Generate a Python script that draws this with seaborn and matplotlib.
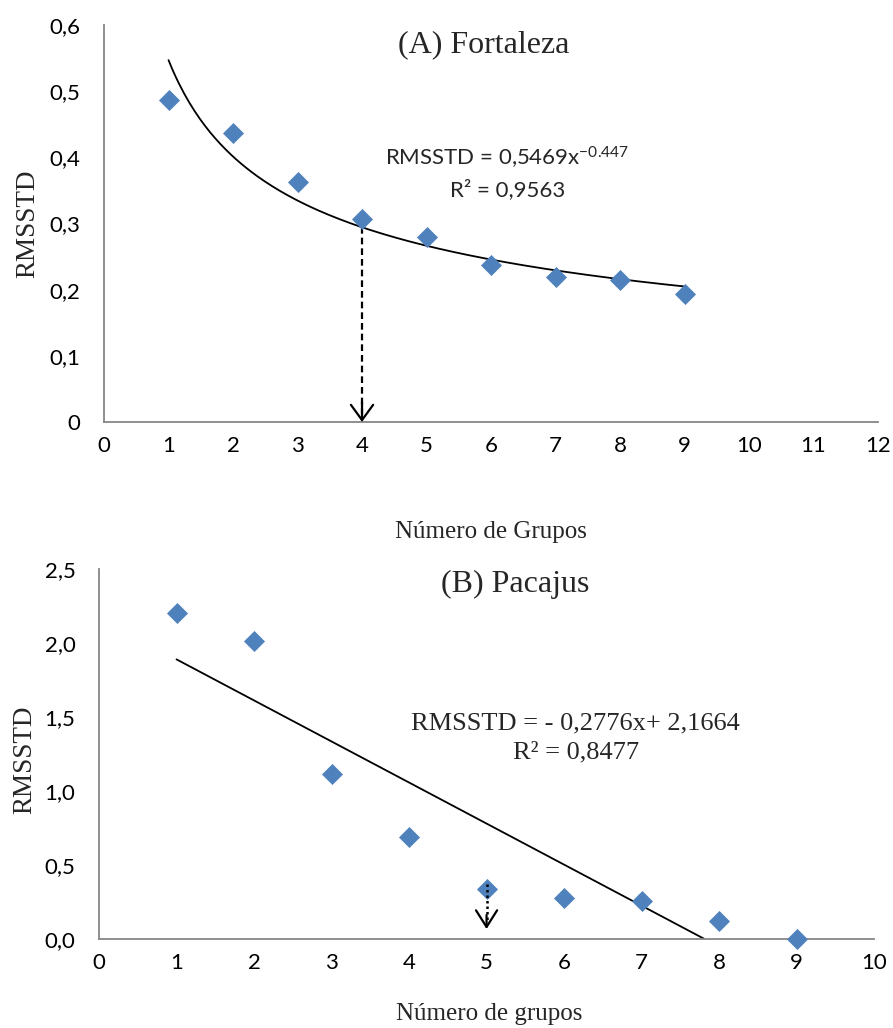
import numpy as np
import pandas as pd
import matplotlib
matplotlib.use("Agg")
import matplotlib.pyplot as plt
import seaborn as sns

# Panel A - Fortaleza
grupos_a = [1, 2, 3, 4, 5, 6, 7, 8, 9]
rmsstd_a = [0.487, 0.436, 0.363, 0.307, 0.279, 0.238, 0.219, 0.214, 0.193]
# power trend line: RMSSTD = a * x^b
coef_a, exp_a = 0.5469, -0.447
yticks_a = [0, 0.1, 0.2, 0.3, 0.4, 0.5, 0.6]
yticklabels_a = ["0", "0,1", "0,2", "0,3", "0,4", "0,5", "0,6"]
xticks_a = list(range(0, 13))

# Panel B - Pacajus
grupos_b = [1, 2, 3, 4, 5, 6, 7, 8, 9]
rmsstd_b = [2.205, 2.015, 1.113, 0.690, 0.338, 0.278, 0.253, 0.120, 0.0]
# linear trend line: RMSSTD = m*x + c
slope_b, icpt_b = -0.2776, 2.1664
yticks_b = [0, 0.5, 1.0, 1.5, 2.0, 2.5]
yticklabels_b = ["0,0", "0,5", "1,0", "1,5", "2,0", "2,5"]
xticks_b = list(range(0, 11))

# chosen number of groups (arrows)
k_a = 4
k_b = 5

sns.set_style("white")
plt.rcParams["font.family"] = ["Lato", "DejaVu Sans"]
plt.rcParams["mathtext.default"] = "regular"

serif = ["Liberation Serif", "DejaVu Serif"]
sans = ["Lato", "DejaVu Sans"]
blue = "#4F81BD"
grey = "#868686"

fig = plt.figure(figsize=(8.93, 10.28), dpi=100)
ax1 = fig.add_axes([0.1165, 0.5895, 0.8667, 0.3862])
ax2 = fig.add_axes([0.1109, 0.0869, 0.8679, 0.3596])


def style_axis(ax):
    for s in ["top", "right"]:
        ax.spines[s].set_visible(False)
    for s in ["left", "bottom"]:
        ax.spines[s].set_color(grey)
        ax.spines[s].set_linewidth(1.3)
    ax.tick_params(axis="both", direction="out", length=6, width=1.3,
                   color=grey, labelsize=16, labelcolor="black")
    ax.tick_params(axis="x", pad=4)
    ax.tick_params(axis="y", pad=11)
    for lab in ax.get_xticklabels() + ax.get_yticklabels():
        lab.set_fontfamily(sans)


# ---- Panel A ----
df_a = pd.DataFrame({"grupos": grupos_a, "rmsstd": rmsstd_a})
xa = np.linspace(1, 9, 200)
trend_a = pd.DataFrame({"x": xa, "y": coef_a * xa ** exp_a})
sns.lineplot(data=trend_a, x="x", y="y", color="black", lw=1.3, ax=ax1)
sns.scatterplot(data=df_a, x="grupos", y="rmsstd", marker="D", s=115,
                color=blue, edgecolor=blue, linewidth=0, zorder=3, ax=ax1, clip_on=False)

ax1.set_xlim(0, 12)
ax1.set_ylim(0, 0.6)
ax1.set_xticks(xticks_a)
ax1.set_yticks(yticks_a)
ax1.set_yticklabels(yticklabels_a)
style_axis(ax1)

ya_k = coef_a * k_a ** exp_a
ax1.plot([k_a, k_a], [ya_k, 0.012], color="black", lw=1.6, ls=(0, (3, 1.8)))
ax1.annotate("", xy=(k_a, 0), xytext=(k_a, 0.03),
             arrowprops=dict(arrowstyle="->,head_length=0.55,head_width=0.4",
                             lw=1.6, color="black", mutation_scale=20,
                             shrinkA=0, shrinkB=0))

ax1.set_xlabel("Número de Grupos", fontsize=18, fontfamily=serif)
ax1.set_ylabel("RMSSTD", fontsize=19.5, fontfamily=serif)
ax1.xaxis.set_label_coords(0.5, -0.25)
ax1.yaxis.set_label_coords(-0.083, 0.5)

ax1.text(0.49, 0.95, "(A) Fortaleza", transform=ax1.transAxes, ha="center",
         va="center", fontsize=23, fontfamily=serif)
ax1.text(0.521, 0.665, "RMSSTD = 0,5469x$^{-0.447}$", transform=ax1.transAxes,
         ha="center", va="center", fontsize=16, fontfamily=sans)
ax1.text(0.521, 0.584, "R² = 0,9563", transform=ax1.transAxes,
         ha="center", va="center", fontsize=16, fontfamily=sans)

# ---- Panel B ----
df_b = pd.DataFrame({"grupos": grupos_b, "rmsstd": rmsstd_b})
x_end = -icpt_b / slope_b
xb = np.array([1, x_end])
trend_b = pd.DataFrame({"x": xb, "y": slope_b * xb + icpt_b})
sns.lineplot(data=trend_b, x="x", y="y", color="black", lw=1.3, ax=ax2)
sns.scatterplot(data=df_b, x="grupos", y="rmsstd", marker="D", s=115,
                color=blue, edgecolor=blue, linewidth=0, zorder=3, ax=ax2, clip_on=False)

ax2.set_xlim(0, 10)
ax2.set_ylim(0, 2.5)
ax2.set_xticks(xticks_b)
ax2.set_yticks(yticks_b)
ax2.set_yticklabels(yticklabels_b)
style_axis(ax2)

ax2.plot([k_b, k_b], [0.37, 0.11], color="black", lw=1.8, ls=(0, (1, 1.2)), zorder=4)
ax2.annotate("", xy=(k_b, 0.065), xytext=(k_b, 0.16),
             arrowprops=dict(arrowstyle="->,head_length=0.6,head_width=0.38",
                             lw=1.6, color="black", mutation_scale=20,
                             shrinkA=0, shrinkB=0))

ax2.set_xlabel("Número de grupos", fontsize=18, fontfamily=serif)
ax2.set_ylabel("RMSSTD", fontsize=19.5, fontfamily=serif)
ax2.xaxis.set_label_coords(0.503, -0.175)
ax2.yaxis.set_label_coords(-0.08, 0.483)

ax2.text(0.537, 0.957, "(B) Pacajus", transform=ax2.transAxes, ha="center",
         va="center", fontsize=23, fontfamily=serif)
ax2.text(0.615, 0.581, "RMSSTD = - 0,2776x+ 2,1664", transform=ax2.transAxes,
         ha="center", va="center", fontsize=19, fontfamily=serif)
ax2.text(0.615, 0.503, "R² = 0,8477", transform=ax2.transAxes,
         ha="center", va="center", fontsize=19, fontfamily=serif)

fig.savefig("out.png", dpi=100)
